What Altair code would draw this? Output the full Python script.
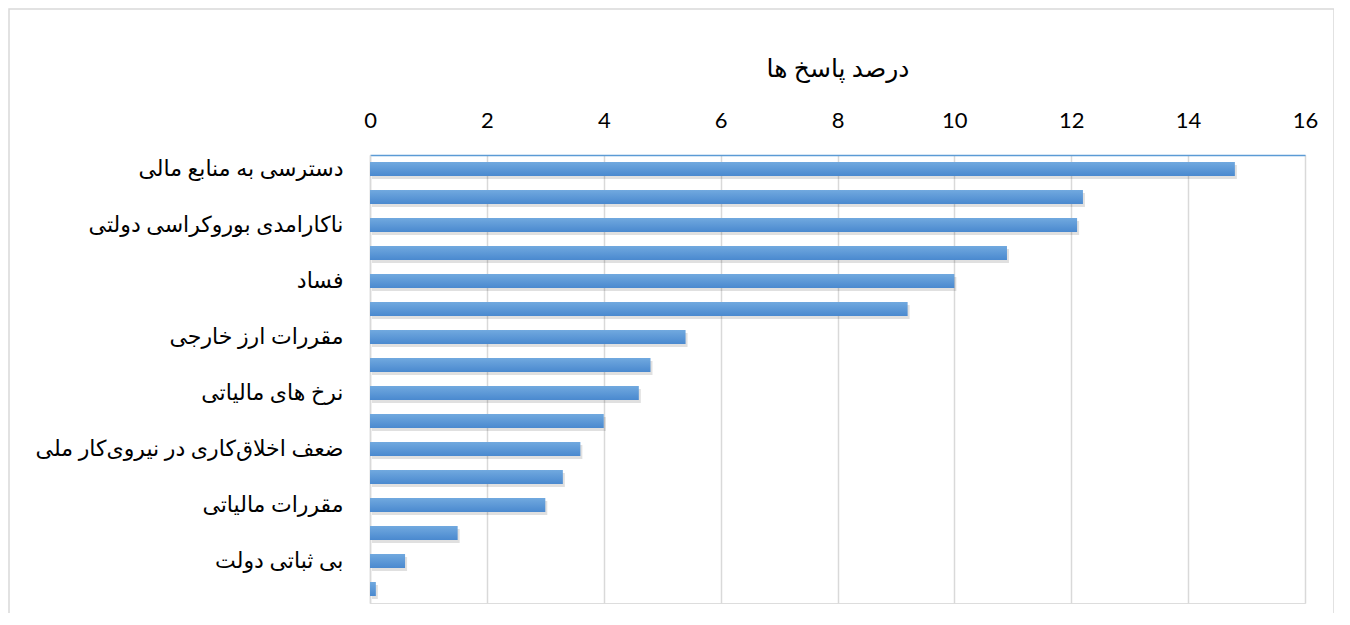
import json
import altair as alt
import pandas as pd

labels = [
    "دسترسی به منابع مالی", "",
    "ناکارامدی بوروکراسی دولتی", "",
    "فساد", "",
    "مقررات ارز خارجی", "",
    "نرخ های مالیاتی", "",
    "ضعف اخلاق\u200cکاری در نیروی\u200cکار ملی", "",
    "مقررات مالیاتی", "",
    "بی ثباتی دولت", "",
]
values = [14.8, 12.2, 12.1, 10.9, 10.0, 9.2, 5.4, 4.8, 4.6, 4.0, 3.6, 3.3, 3.0, 1.5, 0.6, 0.1]
x_ticks = [0, 2, 4, 6, 8, 10, 12, 14, 16]
x_title = "درصد پاسخ ها"

df = pd.DataFrame({"idx": list(range(len(values))), "value": values})

label_expr = json.dumps(labels, ensure_ascii=False) + "[datum.value]"
FONT = "Lato, DejaVu Sans, sans-serif"

y_enc = alt.Y(
    "idx:O",
    sort="ascending",
    scale=alt.Scale(paddingInner=0.5, paddingOuter=0.25),
    axis=alt.Axis(
        title=None,
        labelExpr=label_expr,
        labelFont=FONT,
        labelFontSize=22,
        labelColor="#000000",
        labelPadding=27,
        ticks=False,
        domainColor="#d9d9d9",
        domainWidth=1.5,
        labelLimit=400,
    ),
)

x_enc = alt.X(
    "value:Q",
    scale=alt.Scale(domain=[0, 16], nice=False),
    axis=alt.Axis(
        orient="top",
        values=x_ticks,
        format="d",
        labelFlush=False,
        title=x_title,
        titleFont=FONT,
        titleFontSize=25,
        titleFontWeight="normal",
        titleColor="#000000",
        titlePadding=28,
        labelFont=FONT,
        labelFontSize=22,
        labelColor="#000000",
        labelPadding=23,
        ticks=False,
        domainColor="#5b9bd5",
        domainWidth=1.5,
        grid=True,
        gridColor="#d9d9d9",
        gridWidth=1.5,
    ),
)

# decorative chart-area frame (not data)
frame = alt.Chart(pd.DataFrame({"k": [0]})).mark_rect(
    fill=None, stroke="#d9d9d9", strokeWidth=1.5
).encode(
    x=alt.value(-361), x2=alt.value(964), y=alt.value(-146), y2=alt.value(490)
)

shadow = alt.Chart(df).mark_bar(
    color="#000000", opacity=0.12, yOffset=3, xOffset=2
).encode(x=alt.X("value:Q", scale=alt.Scale(domain=[0, 16], nice=False)), y=alt.Y("idx:O", sort="ascending"))

bars = alt.Chart(df).mark_bar(
    color=alt.Gradient(
        gradient="linear",
        x1=0, y1=0, x2=0, y2=1,
        stops=[
            alt.GradientStop(color="#71a9df", offset=0),
            alt.GradientStop(color="#4a89cf", offset=1),
        ],
    ),
).encode(x=x_enc, y=y_enc)

chart = alt.layer(frame, shadow, bars).properties(
    width=935,
    height=448,
    autosize=alt.AutoSizeParams(type="none"),
    padding={"left": 362, "top": 147, "right": 29, "bottom": 10},
).configure_view(stroke=None).configure(background="#ffffff")

chart.save("out.html", embed_options={"renderer": "svg", "actions": False})
